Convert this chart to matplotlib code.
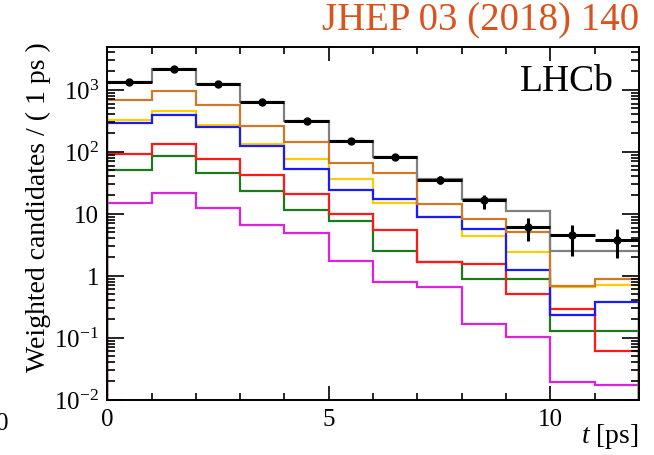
import matplotlib
matplotlib.use("Agg")
import matplotlib.pyplot as plt
from matplotlib.ticker import FixedLocator, LogLocator, NullFormatter, MultipleLocator
import numpy as np

plt.rcParams["font.family"] = ["Liberation Serif", "DejaVu Serif"]
plt.rcParams["mathtext.fontset"] = "custom"
plt.rcParams["mathtext.rm"] = "Liberation Serif"
plt.rcParams["mathtext.it"] = "Liberation Serif:italic"

# bin edges in t [ps]
edges = np.arange(0, 13, 1)

# fit components (weighted candidates per 1 ps)
total = [1360, 2180, 1250, 633, 313, 149, 82, 36, 17, 11, 2.5, 2.5]
orange = [690, 953, 558, 265, 143, 66.5, 45, 14.5, 8.1, 5.0, 0.68, 0.9]
yellow = [320, 463, 272, 135, 77, 35.7, 15, 8.8, 4.3, 2.4, 0.66, 0.70]
blue = [290, 395, 250, 124, 52, 23.8, 17, 8.8, 5.6, 1.26, 0.23, 0.37]
red = [93, 135, 77, 42.5, 20.5, 10, 5.4, 1.65, 1.55, 0.50, 0.29, 0.06]
green = [51, 85, 46, 23, 11.3, 7.5, 2.5, 1.66, 0.88, 0.88, 0.13, 0.13]
magenta = [14.9, 21.6, 12.4, 6.65, 4.9, 1.73, 0.79, 0.66, 0.168, 0.102, 0.0195, 0.0174]

# data points
data_t = [0.5, 1.5, 2.5, 3.5, 4.5, 5.5, 6.5, 7.5, 8.5, 9.5, 10.5, 11.5]
data_y = [1360, 2150, 1250, 640, 310, 150, 82, 35, 16.4, 6.1, 4.5, 3.8]
data_lo = [37, 46, 35, 25, 18, 12, 9, 5, 4.4, 2.4, 2.4, 1.9]
data_hi = [37, 46, 35, 25, 18, 12, 9, 5, 3.7, 2.5, 2.2, 1.8]

ytick_vals = [1e-2, 1e-1, 1, 10, 1e2, 1e3]
ytick_labels = ["10$^{-2}$", "10$^{-1}$", "1", "10", "10$^{2}$", "10$^{3}$"]

fig = plt.figure(figsize=(6.54, 4.56), dpi=100)
ax = fig.add_axes([0.164, 0.1213, 0.813, 0.7728])

series = [
    (magenta, "#dd22dd"),
    (green, "#1c7a1c"),
    (red, "#ff1a1a"),
    (yellow, "#ffcc00"),
    (blue, "#1a1aff"),
    (orange, "#cc7a2a"),
    (total, "#808080"),
]
for vals, col in series:
    ax.stairs(vals, edges, baseline=1e-4, color=col, linewidth=1.6)

ax.errorbar(
    data_t,
    data_y,
    yerr=[data_lo, data_hi],
    xerr=0.5,
    fmt="o",
    color="black",
    markersize=5,
    elinewidth=2.2,
    capsize=0,
)

ax.set_yscale("log")
ax.set_xlim(0, 12)
ax.set_ylim(0.01, 4850)

ax.xaxis.set_major_locator(MultipleLocator(5))
ax.xaxis.set_minor_locator(MultipleLocator(1))
ax.yaxis.set_major_locator(FixedLocator(ytick_vals))
ax.set_yticklabels(ytick_labels)
ax.yaxis.set_minor_locator(LogLocator(base=10, subs=np.arange(2, 10)))
ax.yaxis.set_minor_formatter(NullFormatter())

ax.tick_params(which="both", direction="in", top=True, right=True, width=1.2)
ax.tick_params(which="major", labelsize=18, pad=6)
ax.tick_params(axis="x", which="major", length=10)
ax.tick_params(axis="x", which="minor", length=5)
ax.tick_params(axis="y", which="major", length=12)
ax.tick_params(axis="y", which="minor", length=6)
for s in ax.spines.values():
    s.set_linewidth(1.4)

ax.set_ylabel("Weighted candidates / ( 1 ps )", fontsize=20, labelpad=6)
ax.yaxis.set_label_coords(-0.105, 0.55)
ax.text(1.0, -0.103, "$\\it{t}$ [ps]", transform=ax.transAxes,
        ha="right", va="center", fontsize=20)

ax.text(0.952, 0.955, "LHCb", transform=ax.transAxes, ha="right", va="top",
        fontsize=27)

fig.text(0.978, 0.955, "JHEP 03 (2018) 140", ha="right", va="center",
         fontsize=28, color="#d9531e")

fig.text(-0.006, 0.07, "0", ha="left", va="center", fontsize=18)

plt.savefig("out.png", dpi=100)
plt.close()
